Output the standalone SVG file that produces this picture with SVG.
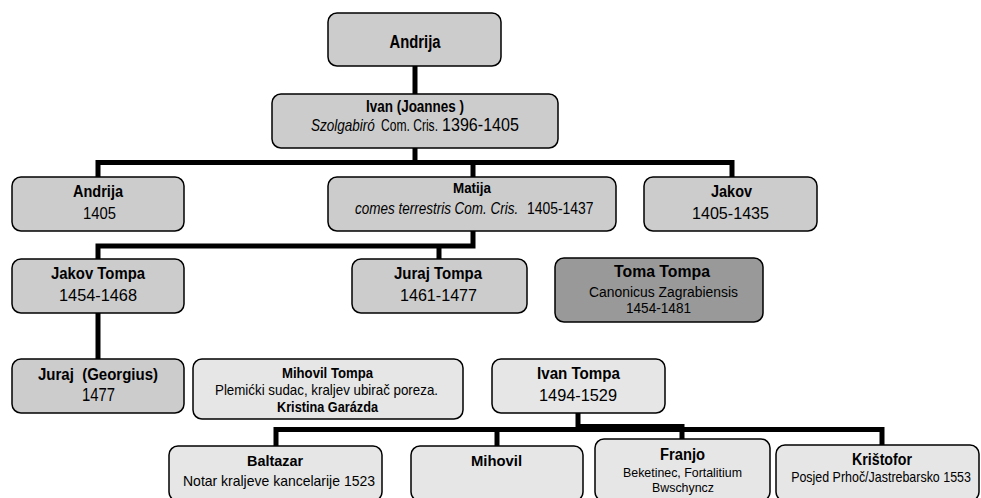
<svg xmlns="http://www.w3.org/2000/svg" width="981" height="498" viewBox="0 0 981 498">
<style>
.box{stroke:#000;stroke-width:1.5}
.g1{fill:#cccccc}
.g2{fill:#999999}
.g3{fill:#e6e6e6}
text{font-family:"Liberation Sans",Arial,sans-serif;fill:#000;text-anchor:middle}
.b{font-weight:bold}
.i{font-style:italic}
.s{text-anchor:start}
.con{fill:none;stroke:#000;stroke-width:5;stroke-linejoin:miter}
</style>
<g id="connectors">
<path class="con" d="M415,66 V94"/>
<path class="con" d="M415,148 V162.5"/>
<path class="con" d="M98,177 V162.5 H732 V177"/>
<path class="con" d="M473,162.5 V177"/>
<path class="con" d="M473,231 V246 H98 V259"/>
<path class="con" d="M439,246 V259"/>
<path class="con" d="M98,313 V359"/>
<path class="con" d="M276,446 V429.5 H882 V445"/>
<path class="con" d="M497,429.5 V446"/>
<path class="con" d="M578,413 V426.5 H682 V439"/>
</g>
<g id="andrija-top">
<rect class="box g1" x="328" y="13" width="173" height="53" rx="9"/>
<text class="b" x="415" y="48" font-size="18" textLength="51" lengthAdjust="spacingAndGlyphs">Andrija</text>
</g>
<g id="ivan">
<rect class="box g1" x="272" y="94" width="286" height="54" rx="9"/>
<text class="b" x="415" y="112" font-size="16" textLength="98" lengthAdjust="spacingAndGlyphs">Ivan (Joannes )</text>
<text class="i s" transform="translate(311,131) scale(0.85,1)" x="0" y="0" font-size="16" textLength="75" lengthAdjust="spacingAndGlyphs">Szolgabiró</text>
<text class="s" transform="translate(381,131) scale(0.76,1)" x="0" y="0" font-size="16" textLength="75" lengthAdjust="spacingAndGlyphs">Com. Cris.</text>
<text class="s" transform="translate(442,131) scale(0.85,1)" x="0" y="0" font-size="19" textLength="90.5" lengthAdjust="spacingAndGlyphs">1396-1405</text>
</g>
<g id="andrija">
<rect class="box g1" x="12" y="177" width="172" height="54" rx="9"/>
<text class="b" x="98" y="197" font-size="17" textLength="50" lengthAdjust="spacingAndGlyphs">Andrija</text>
<text x="99.5" y="219" font-size="17" textLength="33" lengthAdjust="spacingAndGlyphs">1405</text>
</g>
<g id="matija">
<rect class="box g1" x="328" y="177" width="288" height="54" rx="9"/>
<text class="b" x="472" y="193" font-size="15" textLength="38" lengthAdjust="spacingAndGlyphs">Matija</text>
<text class="i s" transform="translate(355,214) scale(0.846,1)" x="0" y="0" font-size="16" textLength="193" lengthAdjust="spacingAndGlyphs">comes terrestris Com. Cris.</text>
<text class="s" transform="translate(527,214) scale(0.87,1)" x="0" y="0" font-size="16" textLength="76.5" lengthAdjust="spacingAndGlyphs">1405-1437</text>
</g>
<g id="jakov">
<rect class="box g1" x="644" y="177" width="173" height="54" rx="9"/>
<text class="b" x="731.5" y="197" font-size="17" textLength="41" lengthAdjust="spacingAndGlyphs">Jakov</text>
<text x="730.5" y="219" font-size="17" textLength="77" lengthAdjust="spacingAndGlyphs">1405-1435</text>
</g>
<g id="jakov-tompa">
<rect class="box g1" x="12" y="259" width="172" height="54" rx="9"/>
<text class="b" x="98" y="279" font-size="17" textLength="94" lengthAdjust="spacingAndGlyphs">Jakov Tompa</text>
<text x="98" y="301" font-size="17" textLength="78" lengthAdjust="spacingAndGlyphs">1454-1468</text>
</g>
<g id="juraj-tompa">
<rect class="box g1" x="352" y="259" width="175" height="54" rx="9"/>
<text class="b" x="438" y="279" font-size="17" textLength="88" lengthAdjust="spacingAndGlyphs">Juraj Tompa</text>
<text x="438.5" y="301" font-size="17" textLength="77" lengthAdjust="spacingAndGlyphs">1461-1477</text>
</g>
<g id="toma-tompa">
<rect class="box g2" x="555" y="258" width="208" height="64" rx="9"/>
<text class="b" x="662" y="277" font-size="16" textLength="96" lengthAdjust="spacingAndGlyphs">Toma Tompa</text>
<text x="663.5" y="297" font-size="14" textLength="149" lengthAdjust="spacingAndGlyphs">Canonicus Zagrabiensis</text>
<text x="658.5" y="313" font-size="14" textLength="65" lengthAdjust="spacingAndGlyphs">1454-1481</text>
</g>
<g id="juraj-georgius">
<rect class="box g1" x="12" y="359" width="172" height="54" rx="9"/>
<text class="b" x="98" y="380" font-size="17" textLength="120" lengthAdjust="spacingAndGlyphs" xml:space="preserve">Juraj  (Georgius)</text>
<text x="98.5" y="401" font-size="18" textLength="33" lengthAdjust="spacingAndGlyphs">1477</text>
</g>
<g id="mihovil-tompa">
<rect class="box g3" x="193" y="359" width="270" height="60" rx="9"/>
<text class="b" x="327.5" y="378" font-size="15" textLength="91" lengthAdjust="spacingAndGlyphs">Mihovil Tompa</text>
<text x="326.5" y="395" font-size="15" textLength="223" lengthAdjust="spacingAndGlyphs">Plemićki sudac, kraljev ubirač poreza.</text>
<text class="b" x="327.5" y="412" font-size="15" textLength="101" lengthAdjust="spacingAndGlyphs">Kristina Garázda</text>
</g>
<g id="ivan-tompa">
<rect class="box g3" x="492" y="359" width="173" height="54" rx="9"/>
<text class="b" x="578.5" y="379" font-size="16" textLength="83" lengthAdjust="spacingAndGlyphs">Ivan Tompa</text>
<text x="578" y="401" font-size="17" textLength="78" lengthAdjust="spacingAndGlyphs">1494-1529</text>
</g>
<g id="baltazar">
<rect class="box g3" x="169" y="446" width="213" height="55" rx="9"/>
<text class="b" x="275" y="466" font-size="15" textLength="56" lengthAdjust="spacingAndGlyphs">Baltazar</text>
<text x="279" y="486" font-size="15" textLength="192" lengthAdjust="spacingAndGlyphs">Notar kraljeve kancelarije 1523</text>
</g>
<g id="mihovil">
<rect class="box g3" x="411" y="446" width="172" height="55" rx="9"/>
<text class="b" x="496.5" y="466" font-size="15" textLength="51" lengthAdjust="spacingAndGlyphs">Mihovil</text>
</g>
<g id="franjo">
<rect class="box g3" x="595" y="439" width="175" height="62" rx="9"/>
<text class="b" x="682.5" y="460" font-size="16" textLength="45" lengthAdjust="spacingAndGlyphs">Franjo</text>
<text x="682.5" y="477" font-size="13" textLength="119" lengthAdjust="spacingAndGlyphs">Beketinec, Fortalitium</text>
<text x="683" y="492" font-size="13" textLength="62" lengthAdjust="spacingAndGlyphs">Bwschyncz</text>
</g>
<g id="kristofor">
<rect class="box g3" x="776" y="445" width="203" height="56" rx="9"/>
<text class="b" x="882" y="465" font-size="16" textLength="60" lengthAdjust="spacingAndGlyphs">Krištofor</text>
<text transform="translate(881,482) scale(0.84,1)" x="0" y="0" font-size="14" textLength="214" lengthAdjust="spacingAndGlyphs">Posjed Prhoč/Jastrebarsko 1553</text>
</g>
</svg>
